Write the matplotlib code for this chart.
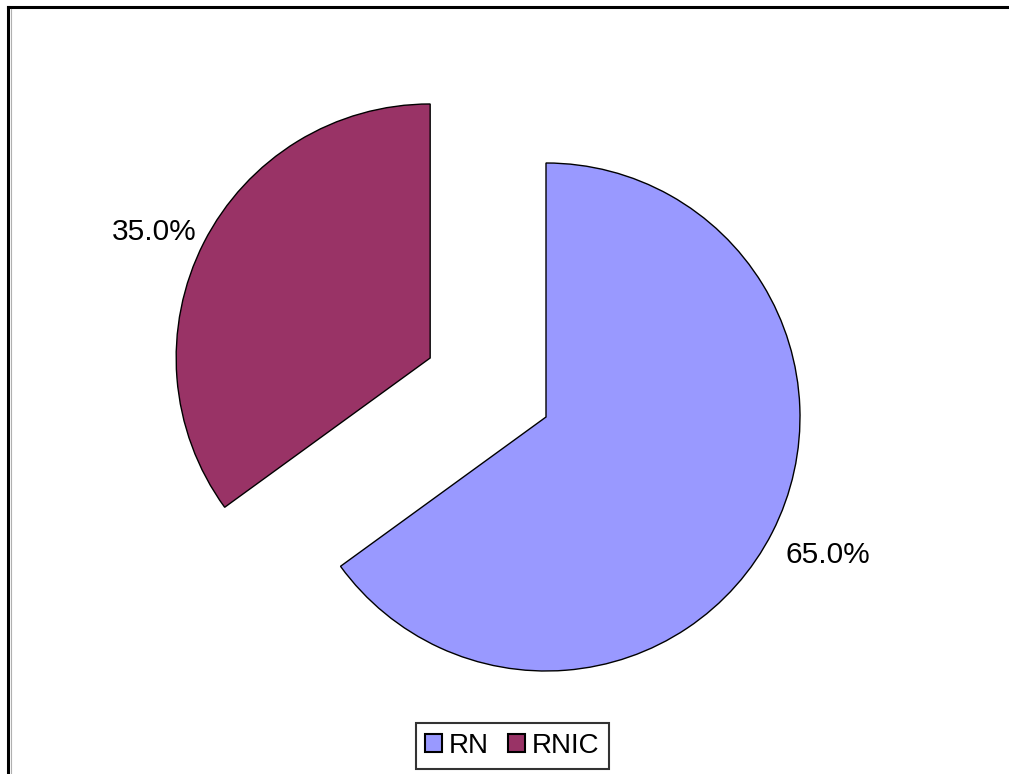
import matplotlib.pyplot as plt
from matplotlib.lines import Line2D

labels = ['RN', 'RNIC']
shares = [65.0, 35.0]
colors = ['#9999FF', '#993366']

plt.rcParams['font.family'] = ['Liberation Sans', 'DejaVu Sans']

W, H = 1009, 774
fig = plt.figure(figsize=(W / 100, H / 100), dpi=100)
ax = fig.add_axes([0, 0, 1, 1])

# pie drawn in pixel units; explode offset is in the same units
wedges, texts, autotexts = ax.pie(
    shares, colors=colors, startangle=90, counterclock=False,
    explode=[0, 130], center=(546, H - 417), radius=254,
    autopct='%.1f%%', pctdistance=1.22, frame=True,
    wedgeprops=dict(edgecolor='black', linewidth=1),
    textprops=dict(fontsize=21.5, color='black'))
# nudge percentage labels a little
for t, (dx, dy) in zip(autotexts, [(6, 3), (0, -15)]):
    x, y = t.get_position()
    t.set_position((x + dx, y + dy))
ax.set_xlim(0, W)
ax.set_ylim(0, H)
ax.set_aspect('equal')
ax.axis('off')

# chart area border (left and top edges)
fig.add_artist(Line2D([8 / W, 8 / W], [0, 1 - 7 / H], transform=fig.transFigure,
                      color='black', linewidth=2.2, solid_capstyle='projecting'))
fig.add_artist(Line2D([8 / W, 1], [1 - 7 / H, 1 - 7 / H], transform=fig.transFigure,
                      color='black', linewidth=2.2, solid_capstyle='projecting'))
fig.add_artist(Line2D([10.5 / W, 10.5 / W], [0, 1 - 9 / H], transform=fig.transFigure,
                      color='#b0b0b0', linewidth=0.8))

leg = fig.legend(wedges, labels, loc='center', bbox_to_anchor=(512.5 / W, 1 - 746 / H),
                 ncol=2, fontsize=20, frameon=True, fancybox=False, edgecolor='black',
                 handlelength=0.6, handleheight=0.6, handletextpad=0.25, columnspacing=0.7,
                 borderpad=0.35, borderaxespad=0)
leg.get_frame().set_linewidth(1.5)
for h in leg.legend_handles:
    h.set_edgecolor('black')
    h.set_linewidth(1.5)

fig.savefig('out.png', dpi=100)
